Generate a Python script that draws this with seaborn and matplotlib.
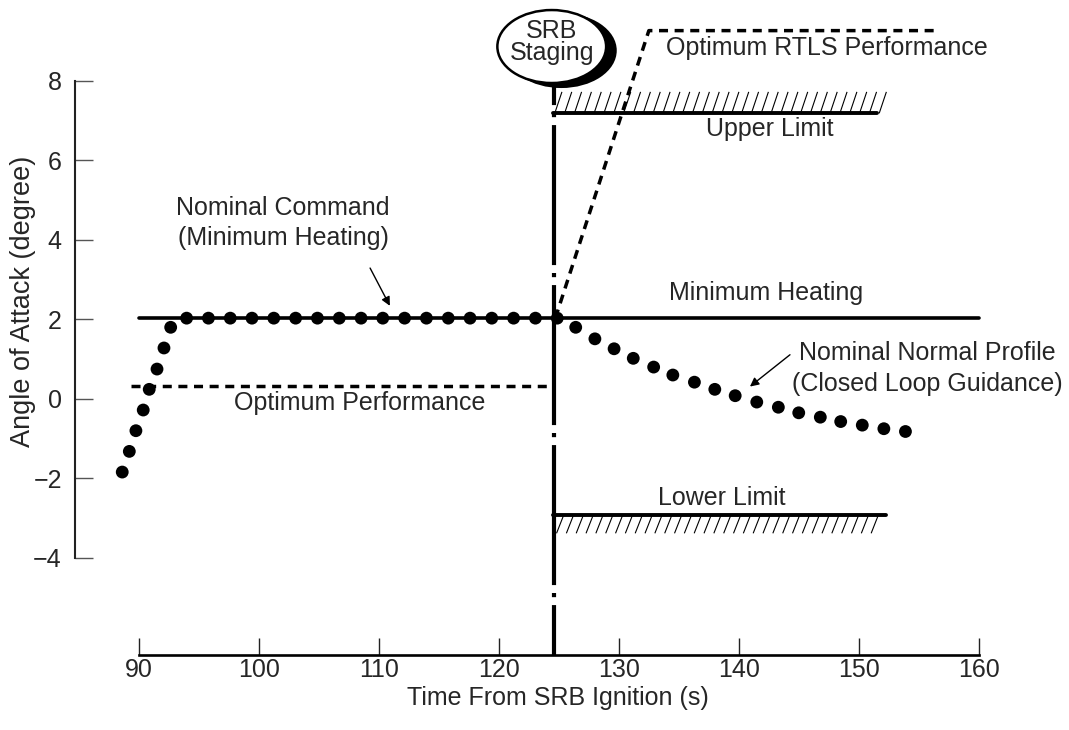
import numpy as np
import matplotlib
matplotlib.use("Agg")
import matplotlib.pyplot as plt
import seaborn as sns
from matplotlib.patches import Ellipse
from matplotlib.collections import LineCollection

# ---------------- data ----------------
# Nominal command (minimum heating) - dotted profile, rising part
rise_time = [88.58, 89.17, 89.72, 90.33, 90.83, 91.48, 92.06, 92.62]
rise_aoa = [-1.84, -1.32, -0.80, -0.28, 0.24, 0.75, 1.28, 1.80]
# Nominal command - flat part at minimum heating
flat_time = [93.95, 95.77, 97.59, 99.40, 101.22, 103.04, 104.86, 106.68, 108.50,
             110.31, 112.13, 113.95, 115.77, 117.59, 119.40, 121.22, 123.04, 124.86]
flat_aoa = [2.03, 2.03, 2.03, 2.03, 2.03, 2.03, 2.03, 2.03, 2.03,
            2.03, 2.03, 2.03, 2.03, 2.03, 2.03, 2.03, 2.03, 2.03]
# Nominal normal profile (closed loop guidance)
profile_time = [126.4, 128.0, 129.6, 131.2, 132.9, 134.5, 136.3, 138.0, 139.7,
                141.5, 143.3, 145.0, 146.8, 148.5, 150.3, 152.1, 153.9]
profile_aoa = [1.80, 1.51, 1.26, 1.02, 0.80, 0.60, 0.42, 0.24, 0.08,
               -0.08, -0.21, -0.35, -0.46, -0.57, -0.66, -0.75, -0.82]

# Reference lines
min_heat_time = [90.0, 160.0]
min_heat_aoa = [2.03, 2.03]
opt_perf_time = [89.3, 124.1]
opt_perf_aoa = [0.33, 0.33]
rtls_time = [124.7, 132.5, 156.4]
rtls_aoa = [2.03, 9.26, 9.26]
upper_time = [124.5, 151.5]
upper_aoa = [7.18, 7.18]
lower_time = [124.5, 152.3]
lower_aoa = [-2.92, -2.92]
staging_time = 124.55

x_ticks = [90, 100, 110, 120, 130, 140, 150, 160]
y_ticks = [-4, -2, 0, 2, 4, 6, 8]

# ---------------- style ----------------
sns.set_theme(style="white")
plt.rcParams["font.family"] = ["Liberation Sans", "DejaVu Sans"]
plt.rcParams["axes.unicode_minus"] = True
FS = 18

fig = plt.figure(figsize=(10.69, 7.30), dpi=100)
ax = fig.add_axes([75 / 1069, 75 / 730, 994 / 1069, 655 / 730])
ax.set_xlim(84.64, 167.54)
ax.set_ylim(-6.44, 10.03)

# ---------------- lines ----------------
sns.lineplot(x=min_heat_time, y=min_heat_aoa, ax=ax, color="black", lw=2.6,
             estimator=None, zorder=3)
sns.lineplot(x=opt_perf_time, y=opt_perf_aoa, ax=ax, color="black", lw=2.5,
             linestyle=(0, (2.6, 1.9)), estimator=None, zorder=3)
sns.lineplot(x=rtls_time, y=rtls_aoa, ax=ax, color="black", lw=2.5,
             linestyle=(0, (2.6, 1.9)), estimator=None, sort=False, zorder=3)
sns.lineplot(x=upper_time, y=upper_aoa, ax=ax, color="black", lw=2.8,
             estimator=None, zorder=3)
sns.lineplot(x=lower_time, y=lower_aoa, ax=ax, color="black", lw=2.8,
             estimator=None, zorder=3)

# hatching of the limits
def hatch(y0, y1, x_start, x_end, slant, step):
    xs = np.arange(x_start, x_end, step)
    segs = [[(x, y0), (x + slant, y1)] for x in xs]
    ax.add_collection(LineCollection(segs, colors="black", linewidths=0.8, zorder=2))

hatch(upper_aoa[0], upper_aoa[0] + 0.54, upper_time[0] + 0.15, upper_time[1] + 0.9, 0.6, 0.82)
hatch(lower_aoa[0] - 0.46, lower_aoa[0], lower_time[0] + 0.3, lower_time[1] - 0.6, 0.6, 0.82)

# SRB staging line (dash-dot)
ell_cx, ell_cy, ell_w, ell_h = 124.4, 8.86, 9.07, 1.835
ax.plot([staging_time, staging_time], [ell_cy - ell_h / 2, ax.get_ylim()[0]],
        color="black", lw=3.0, linestyle=(28.3, (33.6, 1.9, 1.0, 1.9)),
        solid_capstyle="butt", zorder=4, clip_on=False)

# ---------------- dots ----------------
sns.scatterplot(x=rise_time + flat_time, y=rise_aoa + flat_aoa, ax=ax,
                color="black", s=85, edgecolor="none", zorder=5, clip_on=False)
sns.scatterplot(x=profile_time, y=profile_aoa, ax=ax,
                color="black", s=85, edgecolor="none", zorder=5)

# ---------------- SRB staging bubble ----------------
shadow = Ellipse((ell_cx + 0.8, ell_cy - 0.1), ell_w, ell_h, facecolor="black",
                 edgecolor="black", lw=1.5, zorder=6, clip_on=False)
bubble = Ellipse((ell_cx, ell_cy), ell_w, ell_h, facecolor="white",
                 edgecolor="black", lw=1.8, zorder=7, clip_on=False)
ax.add_patch(shadow)
ax.add_patch(bubble)
ax.text(ell_cx, 9.07, "SRB", ha="center", va="baseline", fontsize=FS, zorder=8)
ax.text(ell_cx, 8.52, "Staging", ha="center", va="baseline", fontsize=FS, zorder=8)

# ---------------- labels ----------------
ax.text(133.93, 8.65, "Optimum RTLS Performance", ha="left", va="baseline", fontsize=FS)
ax.text(142.6, 6.61, "Upper Limit", ha="center", va="baseline", fontsize=FS)
ax.text(142.25, 2.49, "Minimum Heating", ha="center", va="baseline", fontsize=FS)
ax.text(108.4, -0.28, "Optimum Performance", ha="center", va="baseline", fontsize=FS)
ax.text(138.6, -2.66, "Lower Limit", ha="center", va="baseline", fontsize=FS)
ax.text(102.0, 4.62, "Nominal Command", ha="center", va="baseline", fontsize=FS)
ax.text(102.0, 3.87, "(Minimum Heating)", ha="center", va="baseline", fontsize=FS)
ax.text(155.7, 0.98, "Nominal Normal Profile", ha="center", va="baseline", fontsize=FS)
ax.text(155.7, 0.21, "(Closed Loop Guidance)", ha="center", va="baseline", fontsize=FS)

arrow = dict(arrowstyle="-|>", color="black", lw=1.0, mutation_scale=13,
             shrinkA=0, shrinkB=0)
ax.annotate("", xy=(110.9, 2.34), xytext=(109.25, 3.29), arrowprops=arrow)
ax.annotate("", xy=(140.93, 0.31), xytext=(144.27, 1.11), arrowprops=arrow)

# ---------------- axes ----------------
ax.set_xticks(x_ticks)
ax.set_yticks(y_ticks)
ax.set_xticklabels([str(v) for v in x_ticks])
ax.set_yticklabels([("\u2212" + str(-v)) if v < 0 else str(v) for v in y_ticks])
for s in ["top", "right"]:
    ax.spines[s].set_visible(False)
ax.spines["left"].set_bounds(y_ticks[0], y_ticks[-1])
ax.spines["bottom"].set_bounds(x_ticks[0], x_ticks[-1])
ax.spines["left"].set_color("#222222")
ax.spines["left"].set_linewidth(1.5)
ax.spines["bottom"].set_color("black")
ax.spines["bottom"].set_linewidth(1.9)
ax.tick_params(axis="y", direction="in", length=13, width=1.0, color="#555555",
               labelsize=FS, pad=9.5, left=True)
ax.tick_params(axis="x", direction="in", length=12, width=1.0, color="#222222",
               labelsize=FS, pad=2.5, bottom=True)
ax.grid(False)

ax.set_xlabel("Time From SRB Ignition (s)", fontsize=FS)
ax.set_ylabel("Angle of Attack (degree)", fontsize=19.5)
ax.xaxis.set_label_coords(0.4855, -0.0475)
ax.yaxis.set_label_coords(-0.039, 0.5405)

fig.savefig("out.png", dpi=100)
